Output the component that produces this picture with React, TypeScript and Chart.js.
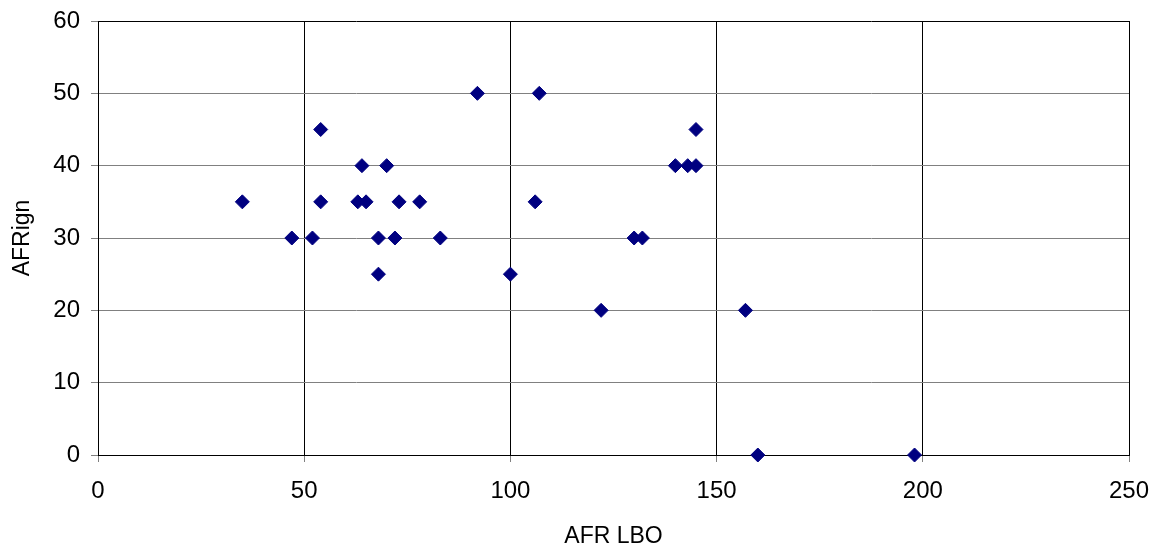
import React, { useEffect, useRef } from "react";
import { Chart, registerables } from "chart.js";

Chart.register(...registerables);

const afrLbo = [35, 47, 52, 54, 54, 63, 64, 65, 68, 68, 70, 72, 73, 78, 83, 92, 100, 106, 107, 122, 130, 132, 140, 143, 145, 145, 157, 160, 198];
const afrIgn = [35, 30, 30, 45, 35, 35, 40, 35, 30, 25, 40, 30, 35, 35, 30, 50, 25, 35, 50, 20, 30, 30, 40, 40, 40, 45, 20, 0, 0];

const xTitle = "AFR LBO";
const yTitle = "AFRign";

export default function App() {
  const ref = useRef<HTMLCanvasElement | null>(null);

  useEffect(() => {
    document.body.style.margin = "0";
    const canvas = ref.current;
    if (!canvas) return;
    const points = afrLbo.map((x, i) => ({ x, y: afrIgn[i] }));
    const font = { family: "'Liberation Sans', Arial, sans-serif", size: 23 };
    const tickFont = { family: "'Liberation Sans', Arial, sans-serif", size: 24 };
    const chart = new Chart(canvas, {
      type: "scatter",
      data: {
        datasets: [
          {
            label: "AFRign",
            data: points,
            pointStyle: "rectRot",
            pointRadius: 7,
            pointHoverRadius: 7,
            backgroundColor: "#000080",
            borderColor: "#000080",
            borderWidth: 1,
            clip: false,
          },
        ],
      },
      options: {
        responsive: false,
        animation: false,
        events: [],
        layout: { padding: { left: 0, right: 32, top: 21, bottom: 0 } },
        plugins: { legend: { display: false }, tooltip: { enabled: false } },
        scales: {
          x: {
            type: "linear",
            min: 0,
            max: 250,
            afterFit: (s: any) => {
              s.height = 96;
              s.paddingLeft = 0;
              s.paddingRight = 0;
            },
            ticks: { stepSize: 50, color: "#000", font: tickFont, padding: 15, maxRotation: 0 },
            grid: {
              color: "#000",
              lineWidth: 1,
              tickLength: 7,
              tickColor: "#808080",
            },
            border: { color: "#000", width: 1 },
            title: {
              display: true,
              text: xTitle,
              color: "#000",
              font,
              padding: { top: 0, bottom: 1 },
            },
          },
          y: {
            type: "linear",
            min: 0,
            max: 60,
            afterFit: (s: any) => {
              s.width = 98;
              s.paddingTop = 0;
              s.paddingBottom = 0;
            },
            ticks: { stepSize: 10, color: "#000", font: tickFont, padding: 11 },
            grid: {
              color: (c: any) => (c.tick && (c.tick.value === 60 || c.tick.value === 0) ? "#000" : "#808080"),
              lineWidth: 1,
              tickLength: 7,
              tickColor: "#808080",
            },
            border: { color: "#000", width: 1 },
            title: {
              display: true,
              text: yTitle,
              color: "#000",
              font,
              padding: { top: 9, bottom: 0 },
            },
          },
        },
      },
    });
    return () => chart.destroy();
  }, []);

  return (
    <div style={{ width: 1161, height: 551, background: "#fff" }}>
      <canvas ref={ref} width={1161} height={551} style={{ display: "block" }} />
    </div>
  );
}
